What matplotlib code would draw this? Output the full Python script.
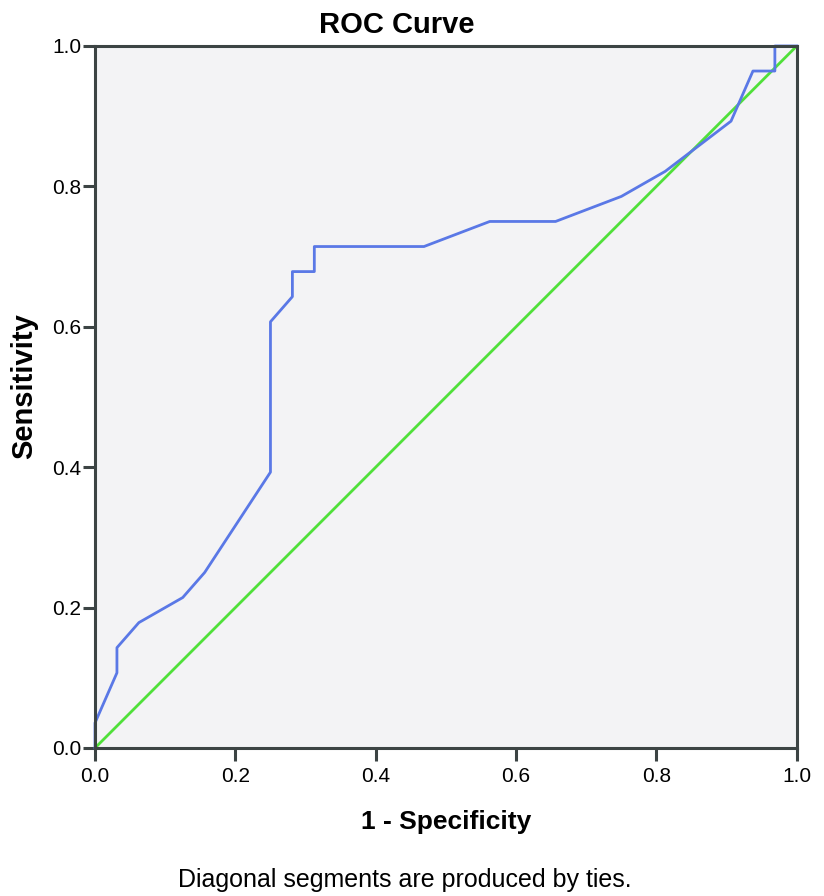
import matplotlib
matplotlib.use("Agg")
import matplotlib.pyplot as plt

plt.rcParams['font.family'] = ['Liberation Sans Narrow', 'Liberation Sans', 'DejaVu Sans']

# ROC points (1 - specificity, sensitivity)
fpr = [0.0, 0.0, 0.03125, 0.03125, 0.0625, 0.125, 0.15625, 0.25, 0.25,
       0.28125, 0.28125, 0.3125, 0.3125, 0.46875, 0.5625, 0.65625, 0.75,
       0.8125, 0.90625, 0.9375, 0.96875, 0.96875, 1.0]
tpr = [0.0, 0.0357, 0.1071, 0.1429, 0.1786, 0.2143, 0.25, 0.3929, 0.6071,
       0.6429, 0.6786, 0.6786, 0.7143, 0.7143, 0.75, 0.75, 0.7857,
       0.8214, 0.8929, 0.9643, 0.9643, 1.0, 1.0]
ref_line = [0.0, 1.0]
ticks = [0.0, 0.2, 0.4, 0.6, 0.8, 1.0]

fig = plt.figure(figsize=(8.24, 8.96), dpi=100)
ax = fig.add_axes([0.1153, 0.1652, 0.8517, 0.7835])
ax.set_facecolor('#f3f3f5')

ax.plot(ref_line, ref_line, color='#50e03a', lw=2, zorder=2)
ax.plot(fpr, tpr, color='#5a78e6', lw=2, zorder=2.2, clip_on=False)

ax.set_xlim(0, 1)
ax.set_ylim(0, 1)
ax.set_xticks(ticks)
ax.set_yticks(ticks)
ax.set_xticklabels([f"{t:.1f}" for t in ticks])
ax.set_yticklabels([f"{t:.1f}" for t in ticks])
ax.tick_params(direction='out', length=9, width=2.2, color='#3c4444')
ax.tick_params(axis='x', labelsize=15, pad=5)
ax.tick_params(axis='y', labelsize=15, pad=1)

for s in ax.spines.values():
    s.set_color('#3c4444')
    s.set_linewidth(2.2)

fig.text(0.481, 0.9632, "ROC Curve", ha='center', va='baseline',
         fontsize=21, fontweight='bold')
fig.text(0.542, 0.0744, "1 - Specificity", ha='center', va='baseline',
         fontsize=19, fontweight='bold')
fig.text(0.029, 0.5686, "Sensitivity", ha='center', va='center',
         rotation=90, fontsize=21, fontweight='bold')
fig.text(0.491, 0.0104, "Diagonal segments are produced by ties.",
         ha='center', va='baseline', fontsize=18)

fig.savefig("out.png", dpi=100)
